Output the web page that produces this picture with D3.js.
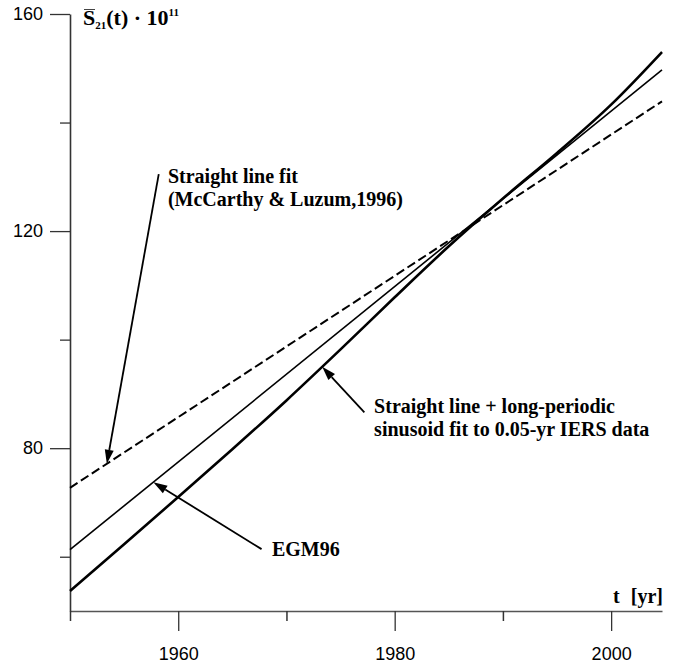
<!DOCTYPE html>
<html>
<head>
<meta charset="utf-8">
<script src="https://cdn.jsdelivr.net/npm/d3@7"></script>
<style>
  html, body { margin: 0; padding: 0; background: #fff; }
  svg { display: block; }
  .tick text { font-family: "Liberation Sans", Arial, sans-serif; font-size: 18px; fill: #000; }
  .ann { font-family: "Liberation Serif", "Times New Roman", serif; font-weight: bold; font-size: 20px; fill: #000; }
</style>
</head>
<body>
<svg id="chart" width="680" height="664"></svg>
<script>
// ---- data ----
const years = [1950, 1955, 1960, 1965, 1970, 1975, 1980, 1985, 1990, 1995, 2000, 2004.7];
const sinusoidFit = [53.7, 62.3, 71.0, 79.8, 88.8, 98.2, 107.8, 117.2, 126.0, 134.4, 143.3, 153.0];
const egm96Years = [1950, 2004.7];
const egm96 = [61.3, 149.7];
const straightYears = [1950, 2004.7];
const straightFit = [72.7, 143.9];
const yMajorTicks = [80, 120, 160];
const yMinorTicks = [60, 100, 140];
const xMajorTicks = [1960, 1980, 2000];
const xMinorTicks = [1950, 1970, 1990];

// annotations: label lines, text anchor (year,value), arrow tail (year,value), arrow tip year on series
const annotations = [
  { lines: ["Straight line fit", "(McCarthy & Luzum,1996)"], tx: 1959.05, ty: 128.8,
    ax: 1958.2, ay: 130.5, tipYear: 1953.4, series: "straight" },
  { lines: ["Straight line + long-periodic", "sinusoid fit to 0.05-yr IERS data"], tx: 1978.1, ty: 86.4,
    ax: 1977.2, ay: 86.6, tipYear: 1973.3, series: "sinusoid" },
  { lines: ["EGM96"], tx: 1968.66, ty: 60.1,
    ax: 1967.7, ay: 61.4, tipYear: 1957.7, series: "egm" }
];

// ---- scales ----
const x = d3.scaleLinear().domain([1950, 2004.7]).range([70, 662]);
const y = d3.scaleLinear().domain([50, 160]).range([611, 14]);

const svg = d3.select("#chart");

// axes
const gx = svg.append("g").attr("transform", `translate(0,${y(50)})`);
gx.call(d3.axisBottom(x).tickValues(xMajorTicks).tickSize(20).tickSizeOuter(0).tickPadding(16).tickFormat(d3.format("d")));
gx.select(".domain").attr("stroke", "#555").attr("stroke-width", 1.3);
gx.selectAll(".tick line").attr("stroke", "#333").attr("stroke-width", 1.3);
const gx2 = svg.append("g").attr("transform", `translate(0,${y(50)})`);
gx2.call(d3.axisBottom(x).tickValues(xMinorTicks).tickSize(10).tickSizeOuter(0).tickFormat(""));
gx2.select(".domain").remove();
gx2.selectAll(".tick line").attr("stroke", "#333").attr("stroke-width", 1.5);

const gy = svg.append("g").attr("transform", `translate(${x(1950)},0)`);
gy.call(d3.axisLeft(y).tickValues(yMajorTicks).tickSize(20).tickSizeOuter(0).tickPadding(7));
gy.select(".domain").attr("stroke", "#333").attr("stroke-width", 1.6);
gy.selectAll(".tick line").attr("stroke", "#333").attr("stroke-width", 1.3);
const gy2 = svg.append("g").attr("transform", `translate(${x(1950)},0)`);
gy2.call(d3.axisLeft(y).tickValues(yMinorTicks).tickSize(10).tickSizeOuter(0).tickFormat(""));
gy2.select(".domain").remove();
gy2.selectAll(".tick line").attr("stroke", "#333").attr("stroke-width", 1.3);

// lines
const line = d3.line().x(d => x(d[0])).y(d => y(d[1]));
const sData = straightYears.map((t, i) => [t, straightFit[i]]);
const eData = egm96Years.map((t, i) => [t, egm96[i]]);
const cData = years.map((t, i) => [t, sinusoidFit[i]]);
const curve = d3.line().x(d => x(d[0])).y(d => y(d[1])).curve(d3.curveMonotoneX);

svg.append("path").datum(sData).attr("d", line).attr("fill", "none")
  .attr("stroke", "#000").attr("stroke-width", 2).attr("stroke-dasharray", "9,4");
svg.append("path").datum(eData).attr("d", line).attr("fill", "none")
  .attr("stroke", "#000").attr("stroke-width", 1.6);
svg.append("path").datum(cData).attr("d", curve).attr("fill", "none")
  .attr("stroke", "#000").attr("stroke-width", 2.6);

// helpers to get series value at a year
function interp(xs, ys, t) {
  for (let i = 0; i < xs.length - 1; i++) {
    if (t >= xs[i] && t <= xs[i + 1]) {
      const f = (t - xs[i]) / (xs[i + 1] - xs[i]);
      return ys[i] + f * (ys[i + 1] - ys[i]);
    }
  }
  return ys[ys.length - 1];
}
const seriesMap = {
  straight: [straightYears, straightFit],
  egm: [egm96Years, egm96],
  sinusoid: [years, sinusoidFit]
};

// annotations
annotations.forEach(a => {
  const [xs, ys] = seriesMap[a.series];
  const tipX = x(a.tipYear), tipY = y(interp(xs, ys, a.tipYear));
  const tailX = x(a.ax), tailY = y(a.ay);
  const ang = Math.atan2(tipY - tailY, tipX - tailX);
  const headLen = 14, headW = 4.5;
  const bx = tipX - headLen * Math.cos(ang), by = tipY - headLen * Math.sin(ang);
  svg.append("line").attr("x1", tailX).attr("y1", tailY).attr("x2", bx).attr("y2", by)
    .attr("stroke", "#000").attr("stroke-width", 1.8);
  const px = -Math.sin(ang), py = Math.cos(ang);
  svg.append("path")
    .attr("d", `M${tipX},${tipY}L${bx + px * headW},${by + py * headW}L${bx - px * headW},${by - py * headW}Z`)
    .attr("fill", "#000");
  const t = svg.append("text").attr("class", "ann").attr("x", x(a.tx)).attr("y", y(a.ty));
  a.lines.forEach((l, i) => {
    t.append("tspan").attr("x", x(a.tx)).attr("dy", i === 0 ? 0 : 22.5).text(l);
  });
});

// y axis title: S̄21(t)·10^11
const yt = svg.append("text").attr("class", "ann").attr("x", 83).attr("y", 25).style("font-size", "22px");
yt.append("tspan").text("S");
yt.append("tspan").attr("dy", 4).style("font-size", "11px").text("21");
yt.append("tspan").attr("dy", -4).text("(t) \u00B7 10");
yt.append("tspan").attr("dy", -9).style("font-size", "11px").text("11");
svg.append("line").attr("x1", 84).attr("x2", 95).attr("y1", 9.5).attr("y2", 9.5).attr("stroke", "#444").attr("stroke-width", 1);

// x axis title
svg.append("text").attr("class", "ann").attr("x", 613).attr("y", 603).text("t");
svg.append("text").attr("class", "ann").attr("x", 663).attr("y", 603).attr("text-anchor", "end").text("[yr]");
</script>
</body>
</html>
